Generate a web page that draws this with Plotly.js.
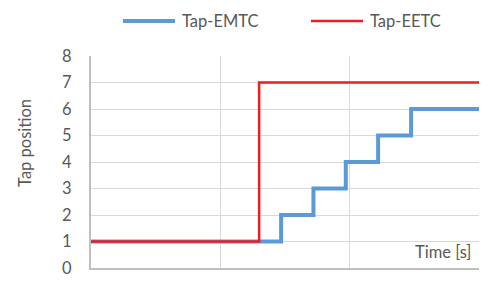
<!DOCTYPE html>
<html><head><meta charset="utf-8">
<script src="https://cdn.plot.ly/plotly-3.0.1.min.js"></script>
<style>html,body{margin:0;padding:0;background:#fff}#chart{width:490px;height:296px}</style>
</head><body><div id="chart"></div>
<script>
const emtcTime = [0, 29.4, 34.4, 39.4, 44.4, 49.5, 60];
const emtcTap  = [1, 2, 3, 4, 5, 6, 6];
const eetcTime = [0, 26, 60];
const eetcTap  = [1, 7, 7];
const seriesNames = ['Tap-EMTC', 'Tap-EETC'];
const seriesColors = ['#5B9BD5', '#EE1C25'];
const seriesWidths = [4, 2.5];
const xTicks = [0, 20, 40, 60];
const yTicks = [0, 1, 2, 3, 4, 5, 6, 7, 8];

const font = {family: 'Lato, "Open Sans", sans-serif', size: 16.5, color: '#595959'};
const data = [
  {x: emtcTime, y: emtcTap, name: seriesNames[0], mode: 'lines', line: {shape: 'hv', color: seriesColors[0], width: seriesWidths[0]}},
  {x: eetcTime, y: eetcTap, name: seriesNames[1], mode: 'lines', line: {shape: 'hv', color: seriesColors[1], width: seriesWidths[1]}}
];
// legend drawn in paper coordinates (positions only)
const legY = 1.165;
const legPos = [[0.0825, 0.2165, 0.229], [0.567, 0.701, 0.714]];
const shapes = legPos.map((p, i) => ({type: 'line', xref: 'paper', yref: 'paper', x0: p[0], x1: p[1], y0: legY, y1: legY,
  line: {color: seriesColors[i], width: seriesWidths[i]}}));
const legAnn = legPos.map((p, i) => ({text: seriesNames[i], xref: 'paper', yref: 'paper', x: p[2], y: legY, xanchor: 'left', yanchor: 'middle', showarrow: false, font: font}));
const layout = {
  width: 490, height: 296,
  margin: {l: 91, r: 11, t: 56, b: 28},
  paper_bgcolor: '#fff', plot_bgcolor: '#fff',
  font: font,
  showlegend: false,
  xaxis: {range: [0, 60], tickvals: xTicks, showgrid: true, gridcolor: '#d9d9d9', gridwidth: 1,
          showline: true, linecolor: '#bfbfbf', linewidth: 2, zeroline: false, ticks: '', ticklabelstandoff: 20, fixedrange: true},
  yaxis: {range: [0, 8], tickvals: yTicks, showgrid: true, gridcolor: '#d9d9d9', gridwidth: 1,
          showline: true, linecolor: '#bfbfbf', linewidth: 2, zeroline: false, ticks: '', ticklabelstandoff: 14, fixedrange: true},
  shapes: shapes,
  annotations: [
    {text: 'Time [s]', xref: 'paper', yref: 'paper', x: 0.985, y: 0.02, xanchor: 'right', yanchor: 'bottom', showarrow: false, font: font},
    {text: 'Tap position', xref: 'paper', yref: 'paper', x: -0.17, xanchor: 'center', y: 0.59, yanchor: 'middle', textangle: -90, showarrow: false, font: font}
  ].concat(legAnn)
};
Plotly.newPlot('chart', data, layout, {displayModeBar: false, staticPlot: true});
</script></body></html>
